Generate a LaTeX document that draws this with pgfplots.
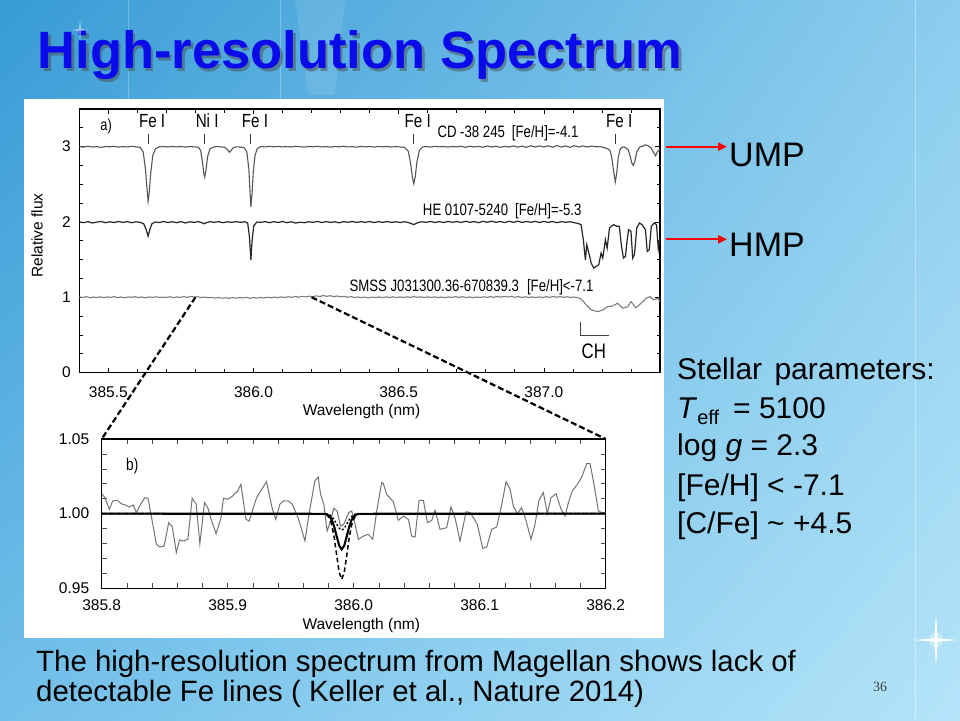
\documentclass[border=0pt]{standalone}
\usepackage{pgfplots}
\pgfplotsset{compat=1.18}
\usepackage{pgfplotstable}
\usepackage{fontspec}
\setmainfont{Liberation Sans}
\newfontfamily\figfont{Liberation Sans}
\newfontfamily\condfont[FakeStretch=0.8]{Liberation Sans}
\newfontfamily\serfont{Liberation Serif}
\usetikzlibrary{arrows.meta,shadings}
\definecolor{bgTL}{RGB}{55,155,213}
\definecolor{bgTR}{RGB}{140,205,238}
\definecolor{bgBL}{RGB}{115,192,234}
\definecolor{bgBR}{RGB}{180,228,248}
\definecolor{titleblue}{RGB}{10,10,235}
\definecolor{specgrey}{RGB}{85,85,85}
\definecolor{lightgrey}{RGB}{125,125,125}
\newcommand{\tlfont}{\figfont\fontsize{15.5}{15.5}\selectfont}

\pgfplotstableread{
x y
385.400 3.000
385.415 2.995
385.430 3.005
385.445 2.995
385.460 3.000
385.475 2.990
385.490 3.002
385.505 2.998
385.520 3.004
385.535 2.994
385.550 3.000
385.565 2.996
385.580 3.004
385.595 2.998
385.610 2.990
385.620 2.930
385.628 2.700
385.633 2.450
385.637 2.275
385.641 2.400
385.646 2.650
385.653 2.880
385.662 2.970
385.675 2.998
385.690 3.002
385.705 2.995
385.720 3.003
385.735 2.996
385.750 3.002
385.765 2.994
385.780 3.001
385.795 2.997
385.810 2.992
385.818 2.950
385.824 2.800
385.829 2.640
385.832 2.595
385.836 2.680
385.842 2.870
385.850 2.970
385.862 2.995
385.875 3.002
385.890 2.996
385.902 2.990
385.910 2.960
385.917 2.925
385.923 2.950
385.930 2.985
385.942 2.998
385.955 2.995
385.968 2.985
385.977 2.930
385.984 2.700
385.988 2.400
385.991 2.200
385.995 2.380
385.999 2.650
386.005 2.880
386.013 2.975
386.025 3.002
386.040 2.996
386.055 3.004
386.070 2.998
386.085 3.003
386.100 2.996
386.115 3.001
386.130 2.995
386.145 3.004
386.160 2.999
386.175 2.994
386.190 3.002
386.205 2.997
386.220 3.004
386.235 2.996
386.250 3.001
386.265 2.994
386.280 3.002
386.295 2.998
386.310 3.005
386.325 2.996
386.340 3.000
386.355 2.993
386.370 3.003
386.385 2.997
386.400 3.001
386.415 2.995
386.430 3.003
386.445 2.997
386.460 3.002
386.475 2.995
386.490 3.001
386.505 2.996
386.520 2.990
386.533 2.940
386.541 2.780
386.547 2.600
386.552 2.507
386.557 2.600
386.563 2.800
386.571 2.950
386.582 2.995
386.595 3.002
386.610 2.995
386.625 3.004
386.640 2.997
386.655 3.002
386.670 2.994
386.685 3.003
386.700 2.996
386.715 3.005
386.730 2.992
386.745 3.006
386.760 2.995
386.775 3.003
386.790 2.992
386.805 3.008
386.820 2.995
386.835 3.006
386.850 2.990
386.865 3.004
386.880 2.994
386.895 3.010
386.910 2.993
386.925 3.008
386.940 2.990
386.955 3.012
386.970 2.994
386.985 3.010
387.000 2.995
387.015 3.012
387.030 2.992
387.045 3.015
387.060 2.995
387.075 3.010
387.090 2.990
387.105 3.012
387.120 2.996
387.135 3.010
387.150 2.995
387.165 3.008
387.180 2.998
387.195 3.000
387.210 2.985
387.220 2.970
387.228 2.950
387.234 2.850
387.240 2.680
387.246 2.530
387.251 2.650
387.256 2.850
387.262 2.960
387.270 2.995
387.280 2.990
387.290 2.960
387.297 2.880
387.303 2.780
387.308 2.750
387.313 2.800
387.320 2.930
387.330 2.995
387.340 3.005
387.350 3.025
387.360 3.010
387.370 2.980
387.378 2.920
387.385 2.880
387.392 2.940
387.400 2.960
}\topspec

\pgfplotstableread{
x y
385.400 2.000
385.415 1.990
385.430 2.004
385.445 1.985
385.460 1.998
385.475 2.006
385.490 1.990
385.505 2.002
385.520 1.992
385.535 2.006
385.550 1.994
385.565 2.004
385.580 1.990
385.595 2.002
385.610 1.995
385.622 1.975
385.630 1.900
385.637 1.810
385.643 1.900
385.650 1.975
385.662 2.000
385.675 1.992
385.690 2.005
385.705 1.993
385.720 2.002
385.735 1.990
385.750 2.004
385.765 1.986
385.780 2.002
385.795 1.994
385.810 2.004
385.822 1.990
385.830 1.975
385.838 1.990
385.850 2.003
385.865 1.995
385.880 2.004
385.895 1.990
385.910 2.002
385.925 1.994
385.940 2.004
385.955 1.995
385.970 2.002
385.980 1.985
385.986 1.800
385.991 1.497
385.995 1.750
386.001 1.950
386.012 2.000
386.025 1.994
386.040 2.004
386.055 1.990
386.070 2.003
386.085 1.993
386.100 2.005
386.115 1.990
386.130 2.002
386.145 1.985
386.160 1.996
386.175 1.990
386.190 2.002
386.205 1.994
386.220 2.006
386.235 1.992
386.250 2.004
386.265 1.994
386.280 2.002
386.295 1.988
386.310 2.004
386.325 1.995
386.340 2.006
386.355 1.993
386.370 2.004
386.385 1.995
386.400 2.005
386.415 1.992
386.430 2.003
386.445 1.994
386.460 2.005
386.475 1.994
386.490 2.002
386.505 1.993
386.520 2.003
386.535 1.990
386.552 1.965
386.565 1.990
386.580 2.002
386.595 1.995
386.610 2.006
386.625 1.993
386.640 2.004
386.655 1.992
386.670 2.007
386.685 1.995
386.700 2.005
386.715 1.993
386.730 2.008
386.745 1.996
386.760 2.005
386.775 1.990
386.790 2.008
386.805 1.995
386.820 2.010
386.835 1.994
386.850 2.006
386.865 1.992
386.880 2.008
386.895 1.995
386.910 2.010
386.925 1.993
386.940 2.006
386.955 1.995
386.970 2.008
386.985 1.992
387.000 2.006
387.015 1.994
387.030 2.005
387.045 1.990
387.060 2.004
387.075 1.995
387.090 2.003
387.105 1.990
387.118 1.980
387.128 1.964
387.136 1.764
387.143 1.497
387.148 1.697
387.155 1.586
387.163 1.453
387.172 1.386
387.180 1.409
387.189 1.431
387.197 1.586
387.203 1.520
387.212 1.764
387.218 1.653
387.226 1.920
387.240 1.964
387.251 1.942
387.260 1.942
387.266 1.720
387.274 1.520
387.281 1.542
387.287 1.764
387.292 1.897
387.300 1.875
387.306 1.520
387.312 1.564
387.320 1.920
387.329 1.986
387.338 1.964
387.350 1.897
387.356 1.608
387.363 1.631
387.370 1.942
387.380 1.986
387.388 1.964
387.394 1.640
387.400 1.800
}\midspec

\pgfplotstableread{
x y
385.400 1.005
385.412 0.995
385.424 1.008
385.436 0.992
385.448 1.003
385.460 0.996
385.472 1.006
385.484 0.994
385.496 1.004
385.508 0.997
385.520 1.008
385.532 0.995
385.544 1.003
385.556 0.992
385.568 1.004
385.580 0.998
385.592 1.007
385.604 0.995
385.616 1.003
385.628 0.993
385.640 1.005
385.652 0.997
385.664 1.006
385.676 0.995
385.688 1.002
385.700 0.996
385.712 1.007
385.724 0.994
385.736 1.004
385.748 0.997
385.760 1.008
385.772 0.998
385.784 1.010
385.796 1.003
385.808 1.006
385.820 0.996
385.832 1.002
385.844 0.992
385.856 0.998
385.868 0.988
385.880 0.996
385.892 0.987
385.904 0.993
385.916 0.985
385.928 0.995
385.940 0.988
385.952 0.997
385.964 0.990
385.976 0.998
385.988 0.986
386.000 0.996
386.012 0.988
386.024 0.998
386.036 0.990
386.048 1.000
386.060 0.992
386.072 1.002
386.084 0.994
386.096 1.005
386.108 0.996
386.120 1.007
386.132 0.998
386.144 1.010
386.156 1.000
386.168 1.012
386.180 1.004
386.192 1.015
386.204 1.006
386.216 1.018
386.228 1.010
386.240 1.022
386.252 1.012
386.264 1.020
386.276 1.008
386.288 1.016
386.300 1.004
386.312 1.012
386.324 1.000
386.336 1.008
386.348 0.996
386.360 1.004
386.372 0.994
386.384 1.002
386.396 0.992
386.408 1.002
386.420 0.995
386.432 1.004
386.444 0.994
386.456 1.005
386.468 0.996
386.480 1.006
386.492 0.995
386.504 1.004
386.516 0.996
386.528 1.006
386.540 0.997
386.552 1.008
386.564 0.998
386.576 1.006
386.588 0.996
386.600 1.004
386.612 0.996
386.624 1.005
386.636 0.995
386.648 1.003
386.660 0.994
386.672 1.004
386.684 0.997
386.696 1.008
386.708 0.998
386.720 1.007
386.732 0.996
386.744 1.004
386.756 0.994
386.768 1.003
386.780 0.996
386.792 1.006
386.804 0.997
386.816 1.008
386.828 0.999
386.840 1.010
386.852 1.001
386.864 1.012
386.876 1.003
386.888 1.010
386.900 1.000
386.912 1.008
386.924 0.997
386.936 1.006
386.948 0.996
386.960 1.004
386.972 0.995
386.984 1.005
386.996 0.996
387.008 1.007
387.020 0.998
387.032 1.009
387.044 1.000
387.056 1.008
387.068 0.998
387.080 1.006
387.092 0.996
387.104 1.003
387.116 0.994
387.123 0.986
387.135 0.950
387.146 0.897
387.163 0.831
387.186 0.808
387.203 0.831
387.220 0.875
387.237 0.884
387.254 0.920
387.272 0.853
387.289 0.875
387.300 0.942
387.317 0.860
387.335 0.920
387.352 0.986
387.366 1.008
387.377 0.964
387.392 0.986
387.400 0.942
}\botspec

\pgfplotstableread{
x y
385.8000 1.0134
385.8026 1.0107
385.8061 1.0029
385.8087 1.0085
385.8126 1.0089
385.8153 1.0067
385.8192 1.0056
385.8218 1.0045
385.8250 1.0058
385.8276 1.0007
385.8308 1.0062
385.8342 1.0107
385.8368 1.0103
385.8434 0.9795
385.8461 0.9777
385.8495 0.9783
385.8532 0.9940
385.8561 0.9911
385.8592 0.9739
385.8618 0.9824
385.8650 0.9817
385.8684 0.9828
385.8718 1.0103
385.8750 1.0062
385.8779 0.9799
385.8816 1.0074
385.8842 1.0040
385.8868 0.9962
385.8908 0.9866
385.8947 0.9973
385.8966 1.0103
385.9000 1.0096
385.9039 1.0118
385.9079 1.0152
385.9105 1.0196
385.9145 0.9962
385.9171 0.9951
385.9229 1.0107
385.9308 1.0214
385.9355 1.0029
385.9382 0.9962
385.9413 1.0062
385.9442 1.0085
385.9482 1.0085
385.9513 1.0062
385.9561 0.9967
385.9613 0.9817
385.9645 0.9996
385.9692 1.0219
385.9718 1.0246
385.9737 1.0129
385.9763 1.0062
385.9789 0.9884
385.9808 0.9929
385.9842 1.0036
385.9868 1.0018
385.9895 0.9917
385.9921 0.9929
385.9961 1.0007
385.9984 1.0018
386.0011 0.9929
386.0037 0.9828
386.0077 0.9850
386.0116 0.9862
386.0151 0.9828
386.0183 1.0018
386.0222 1.0208
386.0235 1.0201
386.0262 1.0129
386.0315 1.0080
386.0354 0.9955
386.0394 0.9984
386.0434 0.9962
386.0460 0.9850
386.0487 0.9844
386.0519 1.0089
386.0553 1.0089
386.0585 0.9940
386.0619 0.9955
386.0646 1.0022
386.0685 0.9895
386.0738 0.9906
386.0772 1.0045
386.0804 0.9973
386.0844 0.9817
386.0892 1.0013
386.0923 1.0007
386.0950 0.9973
386.0981 0.9929
386.1024 0.9768
386.1056 0.9777
386.1095 0.9895
386.1135 0.9911
386.1175 1.0062
386.1209 1.0214
386.1241 1.0163
386.1267 1.0051
386.1299 1.0000
386.1333 1.0040
386.1365 0.9962
386.1407 0.9828
386.1439 0.9929
386.1471 1.0092
386.1505 1.0141
386.1537 1.0000
386.1566 1.0107
386.1606 1.0134
386.1646 1.0029
386.1677 0.9984
386.1704 1.0074
386.1735 1.0152
386.1775 1.0196
386.1810 1.0246
386.1849 1.0335
386.1876 1.0335
386.1902 1.0219
386.1942 1.0018
386.1968 1.0007
386.2000 1.0007
}\bgrey

\pgfplotstableread{
x a b c
385.8000 1.0000 1.0000 1.0000
385.9765 0.9999 0.9998 0.9999
385.9785 0.9996 0.9993 0.9998
385.9805 0.9986 0.9974 0.9994
385.9825 0.9961 0.9928 0.9982
385.9845 0.9914 0.9842 0.9960
385.9865 0.9848 0.9721 0.9930
385.9885 0.9786 0.9607 0.9902
385.9905 0.9760 0.9560 0.9890
385.9925 0.9786 0.9607 0.9902
385.9945 0.9848 0.9721 0.9930
385.9965 0.9914 0.9842 0.9960
385.9985 0.9961 0.9928 0.9982
386.0005 0.9986 0.9974 0.9994
386.0025 0.9996 0.9993 0.9998
386.0045 0.9999 0.9998 0.9999
386.2000 1.0000 1.0000 1.0000
}\bmodel

\begin{document}
\begin{tikzpicture}
\path[use as bounding box] (0,0) rectangle (960pt,-720pt);
\shade[upper left=bgTL, upper right=bgTR, lower left=bgBL, lower right=bgBR] (0,0) rectangle (960pt,-720pt);
% faint decorative seams
\draw[white,opacity=0.25,line width=0.8pt] (128pt,0) -- (128pt,-100pt);
\draw[white,opacity=0.25,line width=0.8pt] (280pt,0) -- (280pt,-100pt);
\draw[white,opacity=0.35,line width=0.8pt] (915pt,0) -- (915pt,-720pt);
\fill[white,opacity=0.10] (295pt,0) -- (345pt,0) -- (335pt,-95pt) -- (308pt,-95pt) -- cycle;
% sparkle bottom right
\begin{scope}[shift={(936pt,-640pt)}]
\fill[white,opacity=0.35] (0,0) circle (7pt);
\fill[white] (0,26pt) -- (1.6pt,1.6pt) -- (22pt,0) -- (1.6pt,-1.6pt) -- (0,-26pt) -- (-1.6pt,-1.6pt) -- (-22pt,0) -- (-1.6pt,1.6pt) -- cycle;
\end{scope}
% title
\node[anchor=base west, inner sep=0pt, text=black!70, opacity=0.5] at (40pt,-71pt) {\fontsize{52.5}{52.5}\selectfont\bfseries High-resolution Spectrum};
\node[anchor=base west, inner sep=0pt, text=titleblue] at (37.5pt,-68.5pt) {\fontsize{52.5}{52.5}\selectfont\bfseries High-resolution Spectrum};
\begin{scope}[shift={(80pt,-30pt)}]
\fill[white,opacity=0.5] (0,10pt) -- (1pt,1pt) -- (9pt,0) -- (1pt,-1pt) -- (0,-10pt) -- (-1pt,-1pt) -- (-9pt,0) -- (-1pt,1pt) -- cycle;
\end{scope}
% white figure panel
\fill[white] (24pt,-99pt) rectangle (664pt,-638pt);

% ---------- panel a ----------
\begin{axis}[
  at={(79.3pt,-372.5pt)}, anchor=south west,
  scale only axis, width=580.7pt, height=263.5pt,
  xmin=385.4, xmax=387.4, ymin=0, ymax=3.5,
  xtick={385.5,386.0,386.5,387.0},
  xticklabels={385.5,386.0,386.5,387.0},
  minor xtick={385.4,385.6,385.7,385.8,385.9,386.1,386.2,386.3,386.4,386.6,386.7,386.8,386.9,387.1,387.2,387.3,387.4},
  ytick={0,1,2,3}, yticklabels={0,1,2,3},
  minor ytick={0.25,0.5,0.75,1.25,1.5,1.75,2.25,2.5,2.75,3.25},
  tick align=inside, major tick length=5pt, minor tick length=3.5pt,
  tick style={black, line width=0.7pt},
  axis line style={black, line width=1.1pt},
  /pgf/number format/assume math mode=true,
  every tick label/.append style={font=\tlfont},
  xticklabel style={font=\tlfont, yshift=-10.5pt},
  yticklabel style={font=\tlfont, xshift=-5pt},
  xlabel={Wavelength (nm)},
  xlabel style={font=\tlfont, at={(axis description cs:0.486,-0.148)}, anchor=center},
  ylabel={Relative flux},
  ylabel style={font=\tlfont, at={(axis description cs:-0.0728,0.52)}, anchor=center},
]
\addplot[specgrey, line width=1.1pt] table[x=x,y=y] {\topspec};
\addplot[black!85, line width=1.2pt] table[x=x,y=y] {\midspec};
\addplot[lightgrey, line width=1.1pt] table[x=x,y=y] {\botspec};
\coordinate (ca1) at (axis cs:385.8,1.0);
\coordinate (ca2) at (axis cs:386.2,1.0);
% line markers
\draw[black!80, line width=0.8pt] (axis cs:385.637,3.03) -- (axis cs:385.637,3.17);
\draw[black!80, line width=0.8pt] (axis cs:385.830,3.03) -- (axis cs:385.830,3.17);
\draw[black!80, line width=0.8pt] (axis cs:385.991,3.03) -- (axis cs:385.991,3.17);
\draw[black!80, line width=0.8pt] (axis cs:386.552,3.03) -- (axis cs:386.552,3.17);
\draw[black!80, line width=0.8pt] (axis cs:387.246,3.03) -- (axis cs:387.246,3.17);
\node[anchor=base, xshift=4pt, inner sep=0pt, font=\condfont\fontsize{19}{19}\selectfont] at (axis cs:385.637,3.255) {Fe I};
\node[anchor=base, xshift=3pt, inner sep=0pt, font=\condfont\fontsize{19}{19}\selectfont] at (axis cs:385.830,3.255) {Ni I};
\node[anchor=base, xshift=4pt, inner sep=0pt, font=\condfont\fontsize{19}{19}\selectfont] at (axis cs:385.991,3.255) {Fe I};
\node[anchor=base, xshift=4pt, inner sep=0pt, font=\condfont\fontsize{19}{19}\selectfont] at (axis cs:386.552,3.255) {Fe I};
\node[anchor=base, xshift=4pt, inner sep=0pt, font=\condfont\fontsize{19}{19}\selectfont] at (axis cs:387.246,3.255) {Fe I};
\node[anchor=base west, inner sep=0pt, font=\condfont\fontsize{16}{16}\selectfont] at (axis cs:385.472,3.21) {a)};
\node[anchor=base west, inner sep=0pt, font=\condfont\fontsize{16.5}{16.5}\selectfont] at (axis cs:386.633,3.12) {CD -38 245\hspace{7pt}[Fe/H]=-4.1};
\node[anchor=base west, inner sep=0pt, font=\condfont\fontsize{16.5}{16.5}\selectfont] at (axis cs:386.583,2.088) {HE 0107-5240\hspace{7pt}[Fe/H]=-5.3};
\node[anchor=base west, inner sep=0pt, font=\condfont\fontsize{16.5}{16.5}\selectfont] at (axis cs:386.33,1.075) {SMSS J031300.36-670839.3\hspace{8pt}[Fe/H]<-7.1};
\draw[black!75, line width=1.1pt] (axis cs:387.125,0.675) -- (axis cs:387.125,0.49) -- (axis cs:387.226,0.49);
\node[anchor=base, inner sep=0pt, font=\condfont\fontsize{21}{21}\selectfont] at (axis cs:387.172,0.19) {CH};
\end{axis}

% ---------- panel b ----------
\begin{axis}[
  at={(101.7pt,-588.3pt)}, anchor=south west,
  scale only axis, width=504pt, height=149.3pt,
  xmin=385.8, xmax=386.2, ymin=0.95, ymax=1.05,
  xtick={385.8,385.9,386.0,386.1,386.2},
  xticklabels={385.8,385.9,386.0,386.1,386.2},
  minor xtick={385.82,385.84,385.86,385.88,385.92,385.94,385.96,385.98,386.02,386.04,386.06,386.08,386.12,386.14,386.16,386.18},
  ytick={0.95,1.0,1.05}, yticklabels={0.95,1.00,1.05},
  minor ytick={0.96,0.97,0.98,0.99,1.01,1.02,1.03,1.04},
  tick align=inside, major tick length=5pt, minor tick length=5pt,
  tick style={black!70, line width=0.7pt},
  axis line style={black, line width=1.5pt},
  /pgf/number format/assume math mode=true,
  every tick label/.append style={font=\tlfont},
  xticklabel style={font=\tlfont, yshift=-8pt},
  yticklabel style={font=\tlfont, xshift=-9pt},
  xlabel={Wavelength (nm)},
  xlabel style={font=\tlfont, at={(axis description cs:0.515,-0.247)}, anchor=center},
]
\addplot[black!55, line width=1.0pt] table[x=x,y=y] {\bgrey};
\addplot[black, line width=1.4pt, dash pattern=on 2pt off 2pt] table[x=x,y=c] {\bmodel};
\addplot[black, line width=1.5pt, dash pattern=on 4.5pt off 3pt] table[x=x,y=b] {\bmodel};
\addplot[black, line width=2.1pt] table[x=x,y=a] {\bmodel};
\coordinate (cb1) at (axis cs:385.8,1.05);
\coordinate (cb2) at (axis cs:386.2,1.05);
\node[anchor=base west, inner sep=0pt, font=\condfont\fontsize{17}{17}\selectfont] at (axis cs:385.8193,1.0292) {b)};
\end{axis}

% zoom connectors
\draw[black, line width=2.2pt, dash pattern=on 6pt off 3pt] (ca1) -- (cb1);
\draw[black, line width=2.2pt, dash pattern=on 6pt off 3pt] (ca2) -- (cb2);

% arrows and labels
\draw[red, line width=2.2pt, -{Triangle[length=9pt,width=8pt]}] (666pt,-146.7pt) -- (727pt,-146.7pt);
\draw[red, line width=2.2pt, -{Triangle[length=9pt,width=8pt]}] (666pt,-239.3pt) -- (727pt,-239.3pt);
\node[anchor=base west, inner sep=0pt] at (729pt,-166pt) {\fontsize{34}{34}\selectfont UMP};
\node[anchor=base west, inner sep=0pt] at (729pt,-256pt) {\fontsize{34}{34}\selectfont HMP};

% stellar parameters
\begin{scope}[every node/.style={anchor=base west, inner sep=0pt, font=\fontsize{30}{30}\selectfont}]
\node at (677pt,-379.3pt) {Stellar\hspace{4pt} parameters:};
\node at (677pt,-418.3pt) {\textit{T}\raisebox{-6pt}{\fontsize{20}{20}\selectfont eff}\hspace{14pt}= 5100};
\node at (677pt,-455pt) {log \textit{g} = 2.3};
\node at (677pt,-495pt) {[Fe/H] < -7.1};
\node at (677pt,-533.3pt) {[C/Fe] \textasciitilde{} +4.5};
\end{scope}

% caption
\node[anchor=base west, inner sep=0pt] at (36pt,-671pt) {\fontsize{29.4}{29.4}\selectfont The high-resolution spectrum from Magellan shows lack of};
\node[anchor=base west, inner sep=0pt] at (36pt,-701pt) {\fontsize{29.4}{29.4}\selectfont detectable Fe lines ( Keller et al., Nature 2014)};
\node[anchor=center, inner sep=0pt, text=black!75] at (880pt,-687pt) {\serfont\fontsize{14}{14}\selectfont 36};
\end{tikzpicture}
\end{document}
